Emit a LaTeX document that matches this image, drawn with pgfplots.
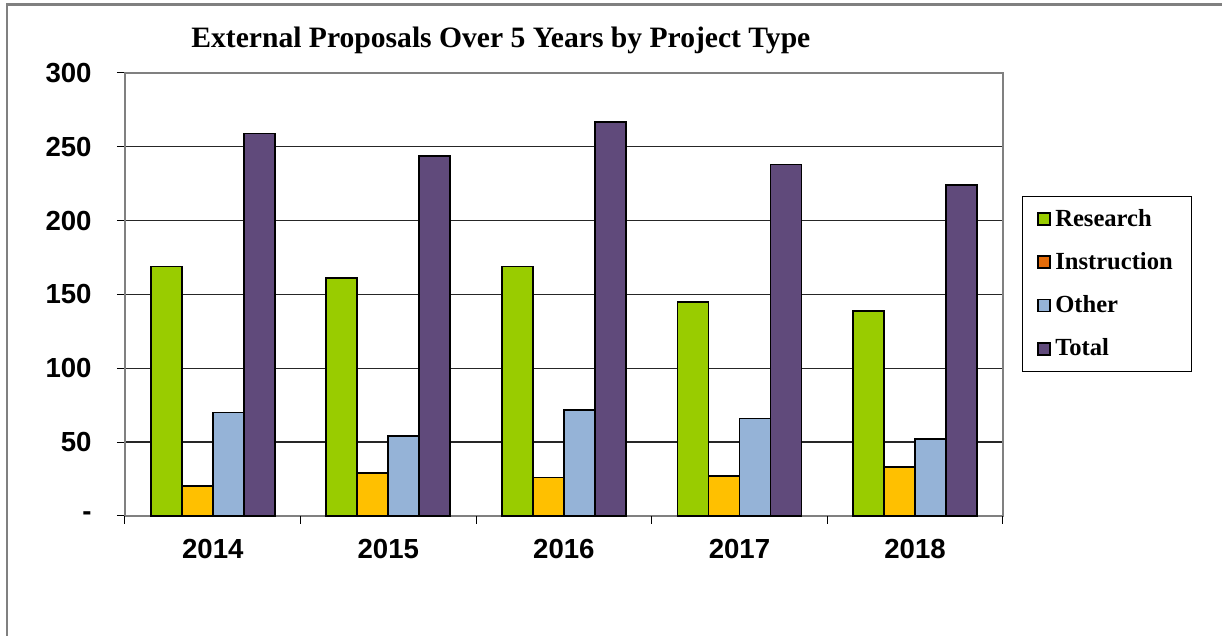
\documentclass[border=0pt]{standalone}
\usepackage{fontspec}
\setmainfont{Liberation Serif}
\setsansfont{Liberation Sans}
\usepackage{pgfplots}
\pgfplotsset{compat=1.18}
\definecolor{cRes}{HTML}{99CC00}
\definecolor{cIns}{HTML}{FFC000}
\definecolor{cInsLeg}{HTML}{E46C0A}
\definecolor{cOth}{HTML}{95B3D7}
\definecolor{cTot}{HTML}{604A7B}
\definecolor{cAx}{HTML}{808080}
\begin{document}
\begin{tikzpicture}
\path (0,0) rectangle (611.5pt,-318.5pt);
\draw[cAx, line width=1.2pt] (3.5pt,-318pt) -- (3.5pt,-2.2pt) -- (611pt,-2.2pt);
\begin{axis}[
  at={(62.5pt,-258pt)}, anchor=south west,
  scale only axis, width=439pt, height=221.5pt,
  xmin=-0.5, xmax=4.5, ymin=0, ymax=300,
  clip=false,
  ybar=0pt, bar width=15.5pt,
  xtick={0,1,2,3,4},
  xticklabels={2014,2015,2016,2017,2018},
  ytick={0,50,100,150,200,250,300},
  yticklabels={-,50,100,150,200,250,300},
  /pgf/number format/assume math mode=true,
  xtick pos=bottom, ytick pos=left,
  tick align=outside, major tick length=4pt,
  xtick style={draw=none},
  ytick style={draw=black, line width=0.5pt},
  extra x ticks={-0.5,0.5,1.5,2.5,3.5,4.5},
  extra x tick labels={},
  extra x tick style={grid=none, xtick style={draw=black, line width=0.5pt}},
  ymajorgrids, grid style={black!85, line width=0.6pt},
  axis line style={cAx, line width=1pt},
  tick label style={font=\sffamily\bfseries\fontsize{13.8}{14}\selectfont},
  yticklabel style={anchor=east, inner sep=0pt, xshift=-12.5pt},
  xticklabel style={anchor=north, inner sep=0pt, yshift=-7.5pt},
  legend cell align=left,
  legend style={at={(rel axis cs:1.0217,0.7223)}, anchor=north west, draw=black, line width=0.6pt, fill=white,
    font=\bfseries\fontsize{12.3}{13}\selectfont, inner xsep=7.5pt, inner ysep=4.2pt, row sep=7.6pt,
    /tikz/every even column/.append style={column sep=0pt}},
  legend image code/.code={\draw[#1, draw=black, line width=0.9pt] (0pt,-3pt) rectangle (6pt,3pt);},
  every axis plot/.append style={draw=black, line width=0.9pt},
]
\addplot[fill=cRes] coordinates {(0,169) (1,161) (2,169) (3,145) (4,139)};
\addlegendentry{Research}
\addplot[fill=cIns, legend image code/.code={\draw[fill=cInsLeg, draw=black, line width=0.9pt] (0pt,-3pt) rectangle (6pt,3pt);}] coordinates {(0,20) (1,29) (2,26) (3,27) (4,33)};
\addlegendentry{Instruction}
\addplot[fill=cOth] coordinates {(0,70) (1,54) (2,72) (3,66) (4,52)};
\addlegendentry{Other}
\addplot[fill=cTot] coordinates {(0,259) (1,244) (2,267) (3,238) (4,224)};
\addlegendentry{Total}
\node[font=\bfseries\fontsize{14.8}{15}\selectfont, anchor=center] at (rel axis cs:0.4282,1.0745) {External Proposals Over 5 Years by Project Type};
\end{axis}
\end{tikzpicture}
\end{document}
